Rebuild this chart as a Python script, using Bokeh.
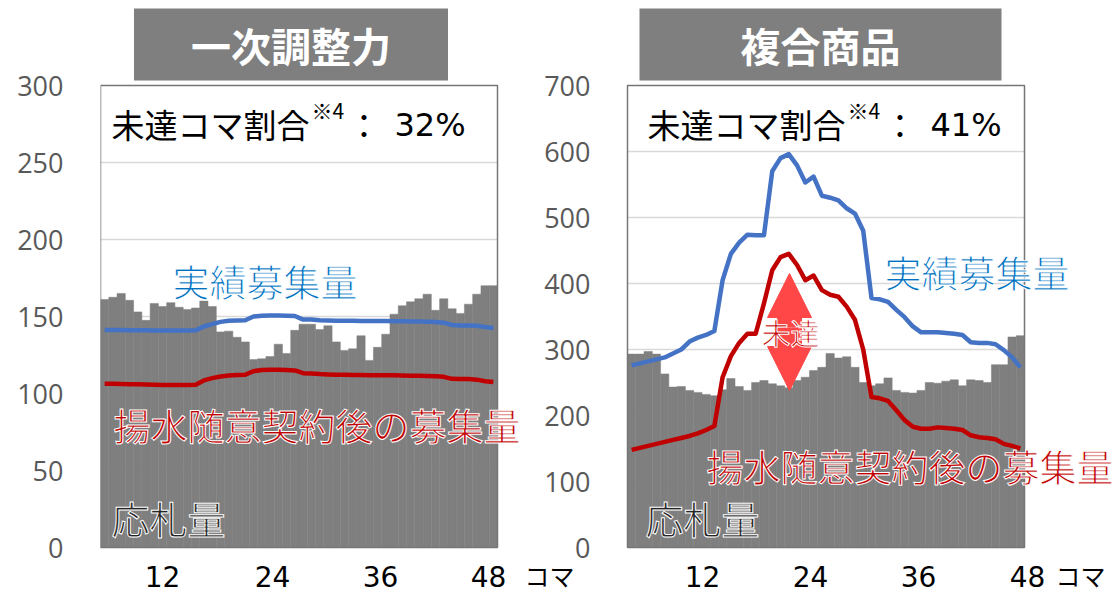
from bokeh.plotting import figure
from bokeh.models import Range1d, FixedTicker, Label, Arrow, NormalHead
from bokeh.core.properties import value
from bokeh.embed import file_html
from bokeh.resources import INLINE

# ---------------- data ----------------
koma = list(range(1, 49))
x_tick_labels = ["12", "24", "36", "48"]
unit_label = "コマ"
left_yticks = [0, 50, 100, 150, 200, 250, 300]
right_yticks = [0, 100, 200, 300, 400, 500, 600, 700]

titles = ["一次調整力", "複合商品"]
shortfall_text = "未達コマ割合"
shortfall_note = "※4"
shortfall_rates = ["32%", "41%"]
series_names = ["実績募集量", "揚水随意契約後の募集量", "応札量"]
gap_label = "未達"

# 一次調整力 (left)
left_bid = [161, 162.5, 165, 160.5, 153, 147.5, 158.5, 156.5, 159, 156, 154.5, 155.5,
            160, 156.5, 140, 140.5, 136.5, 133.5, 122, 122.5, 124, 132, 126, 141,
            145, 145, 141.5, 144, 133.5, 128, 129, 137.5, 121.5, 130, 138.5, 151.5,
            157, 159.5, 161.5, 164.5, 154, 161.5, 155, 152, 158, 164.5, 170, 170]
left_actual = [141.3, 141.3, 141.2, 141.1, 141, 141, 140.9, 140.9, 140.9, 140.9, 140.9, 141,
               143.5, 145, 146.5, 147.3, 147.4, 147.6, 150, 150.5, 150.6, 150.6, 150.5, 150.3,
               148, 148, 147.6, 147.4, 147.3, 147.2, 147.2, 147.1, 147, 147, 147, 146.9,
               146.9, 146.8, 146.8, 146.6, 146.4, 146, 144.5, 144.2, 144.2, 144, 143.2, 142.6]
left_after = [106.3, 106.3, 106.2, 106, 106, 105.8, 105.7, 105.6, 105.6, 105.6, 105.6, 105.7,
              108.5, 110, 111, 111.7, 112, 112.2, 114.5, 115.2, 115.4, 115.4, 115.3, 115,
              113.2, 113, 112.6, 112.4, 112.2, 112.1, 112, 112, 111.9, 111.9, 111.8, 111.8,
              111.7, 111.6, 111.5, 111.4, 111.2, 110.8, 109.5, 109.4, 109.4, 109, 108, 107.4]

# 複合商品 (right)
right_bid = [293, 293, 297, 293, 263, 243, 244, 238, 235, 232, 230, 239,
             256, 244, 238, 250, 253, 248, 245, 242, 253, 258, 268, 273,
             294, 287, 289, 273, 250, 245, 248, 257, 238, 235, 234, 238,
             250, 249, 252, 254, 245, 254, 253, 250, 277, 277, 319, 321]
right_actual = [276, 279, 282, 285, 288, 294, 300, 312, 318, 322, 328, 405,
                445, 462, 474, 473, 473, 570, 590, 596, 579, 553, 562, 533,
                530, 526, 514, 506, 480, 378, 376, 372, 360, 349, 335, 326,
                326, 326, 325, 324, 322, 311, 310, 310, 308, 299, 288, 273]
right_after = [148, 151, 154, 157, 160, 163, 166, 169, 173, 178, 184, 258,
               290, 310, 324, 324, 370, 420, 440, 445, 428, 405, 412, 390,
               383, 380, 365, 345, 300, 228, 226, 222, 208, 193, 183, 180,
               180, 182, 181, 180, 178, 170, 167, 166, 164, 157, 154, 150]

# ---------------- layout / styles ----------------
W, H = 1112, 594
PX = 397 / 48                 # pixels per koma
L0, R0 = 100, 627             # left edges of the two plot areas
TOP, BOT = 85, 547            # top / bottom of both plot areas
sL = (BOT - TOP) / left_yticks[-1]
sR = (BOT - TOP) / right_yticks[-1]

JP = "Noto Sans CJK JP"
NUM = "DejaVu Sans"
BAR = "#7f7f7f"
LINE_BLUE = "#4472C4"
TXT_BLUE = "#0070C0"
RED = "#C00000"
ARROW_RED = "#FF4747"
AXIS_TXT = "#595959"


def xd(px, edge):
    return (px - edge) / PX + 0.5


p = figure(width=W, height=H, output_backend="svg", toolbar_location=None,
           x_range=Range1d(xd(L0, L0), xd(W, L0)),
           y_range=Range1d(-(H - BOT) / sL, left_yticks[-1] + TOP / sL),
           x_axis_location=None, min_border_left=L0, min_border_right=0,
           min_border_top=0, min_border_bottom=0, outline_line_color=None,
           background_fill_color="white", border_fill_color="white")
p.extra_x_ranges = {"r": Range1d(xd(L0, R0), xd(W, R0))}
p.extra_y_ranges = {"r": Range1d(-(H - BOT) / sR, right_yticks[-1] + TOP / sR)}
p.xgrid.visible = False
p.ygrid.visible = False

# real y axis of the left panel
ax = p.yaxis[0]
ax.ticker = FixedTicker(ticks=left_yticks)
ax.axis_line_color = None
ax.major_tick_line_color = None
ax.minor_tick_line_color = None
ax.major_tick_out = 0
ax.major_tick_in = 0
ax.major_label_standoff = 37
ax.major_label_text_font = "Open Sans"
ax.major_label_text_font_size = "27px"
ax.major_label_text_color = AXIS_TXT


def draw_panel(rng, yticks, bids, actual, after):
    kw = dict(x_range_name=rng, y_range_name=rng)
    inner = yticks[1:-1]
    p.segment(x0=[0.5] * len(inner), x1=[48.5] * len(inner), y0=inner, y1=inner,
              line_color="#d9d9d9", line_width=1.5, **kw)
    p.vbar(x=koma, top=bids, width=1.0, fill_color=BAR, line_color=BAR,
           line_width=0.5, **kw)
    p.line(koma, actual, line_color=LINE_BLUE, line_width=4.5, line_join="round", **kw)
    p.line(koma, after, line_color=RED, line_width=4.5, line_join="round", **kw)
    p.quad(left=[0.5], right=[48.5], bottom=[0], top=[yticks[-1]], fill_color=None,
           line_color="#767676", line_width=1.5, **kw)


draw_panel("default", left_yticks, left_bid, left_actual, left_after)
draw_panel("r", right_yticks, right_bid, right_actual, right_after)

# y tick labels of the right panel
p.text(x=[xd(590, R0)] * len(right_yticks), y=right_yticks,
       text=[str(t) for t in right_yticks], x_range_name="r", y_range_name="r",
       text_align="right", text_baseline="middle", text_font=value("Open Sans"),
       text_font_size="27px", text_color=AXIS_TXT)


def put(side, px, py, text, size, color="#000000", align="left", font=JP,
        style="normal", outline=None, **kw):
    if side == "L":
        x, y, names = xd(px, L0), (BOT - py) / sL, {}
    else:
        x, y, names = xd(px, R0), (BOT - py) / sR, dict(x_range_name="r", y_range_name="r")
    extra = {"text_outline_color": outline} if outline else {}
    p.add_layout(Label(x=x, y=y, text=text, text_font=font, text_font_size=f"{size}px",
                       text_color=color, text_align=align, text_baseline="middle",
                       text_font_style=style, **names, **extra, **kw))


# titles
put("L", 290.5, 44, titles[0], 40, "white", "center", style="bold",
    background_fill_color=BAR, padding=dict(left=57, right=57, top=7, bottom=7))
put("R", 820, 44, titles[1], 40, "white", "center", style="bold",
    background_fill_color=BAR, padding=dict(left=101, right=101, top=7, bottom=7))

# shortfall ratio texts
for side, x0, rate in (("L", 111, shortfall_rates[0]), ("R", 647, shortfall_rates[1])):
    put(side, x0, 123, shortfall_text, 33)
    put(side, x0 + 200, 109, shortfall_note, 21)
    put(side, x0 + 236, 123, "：", 33)
    put(side, x0 + 283, 124, rate, 32, font=NUM)

# series labels
put("L", 172, 280, series_names[0], 37, TXT_BLUE, outline="white")
put("L", 113, 424, series_names[1], 37, RED, outline="white")
put("L", 111, 517, series_names[2], 38, "#262626", outline="white")
put("R", 884, 271, series_names[0], 37, TXT_BLUE, outline="white")
put("R", 706, 465, series_names[1], 37, RED, outline="white")
put("R", 645, 517, series_names[2], 38, "#262626", outline="white")

# shortfall arrow
ax_x = xd(789, R0)
mid_y = (BOT - 327) / sR
for tip in (273, 390):
    p.add_layout(Arrow(x_start=ax_x, y_start=mid_y, x_end=ax_x, y_end=(BOT - tip) / sR,
                       end=NormalHead(size=44, fill_color=ARROW_RED, line_color=ARROW_RED,
                                      line_width=1),
                       line_color=ARROW_RED, line_width=25,
                       x_range_name="r", y_range_name="r"))
put("R", 790, 331, gap_label, 29, RED, "center", outline="white")

# x tick labels and unit labels
for px, t in zip([162, 272, 380, 488], x_tick_labels):
    put("L", px, 576, t, 28, "#000000", "center", font=NUM)
for px, t in zip([702, 810, 918, 1027], x_tick_labels):
    put("R", px, 576, t, 28, "#000000", "center", font=NUM)
put("L", 524, 574, unit_label, 25)
put("R", 1055, 574, unit_label, 25)

open("out.html", "w").write(file_html(p, INLINE))
